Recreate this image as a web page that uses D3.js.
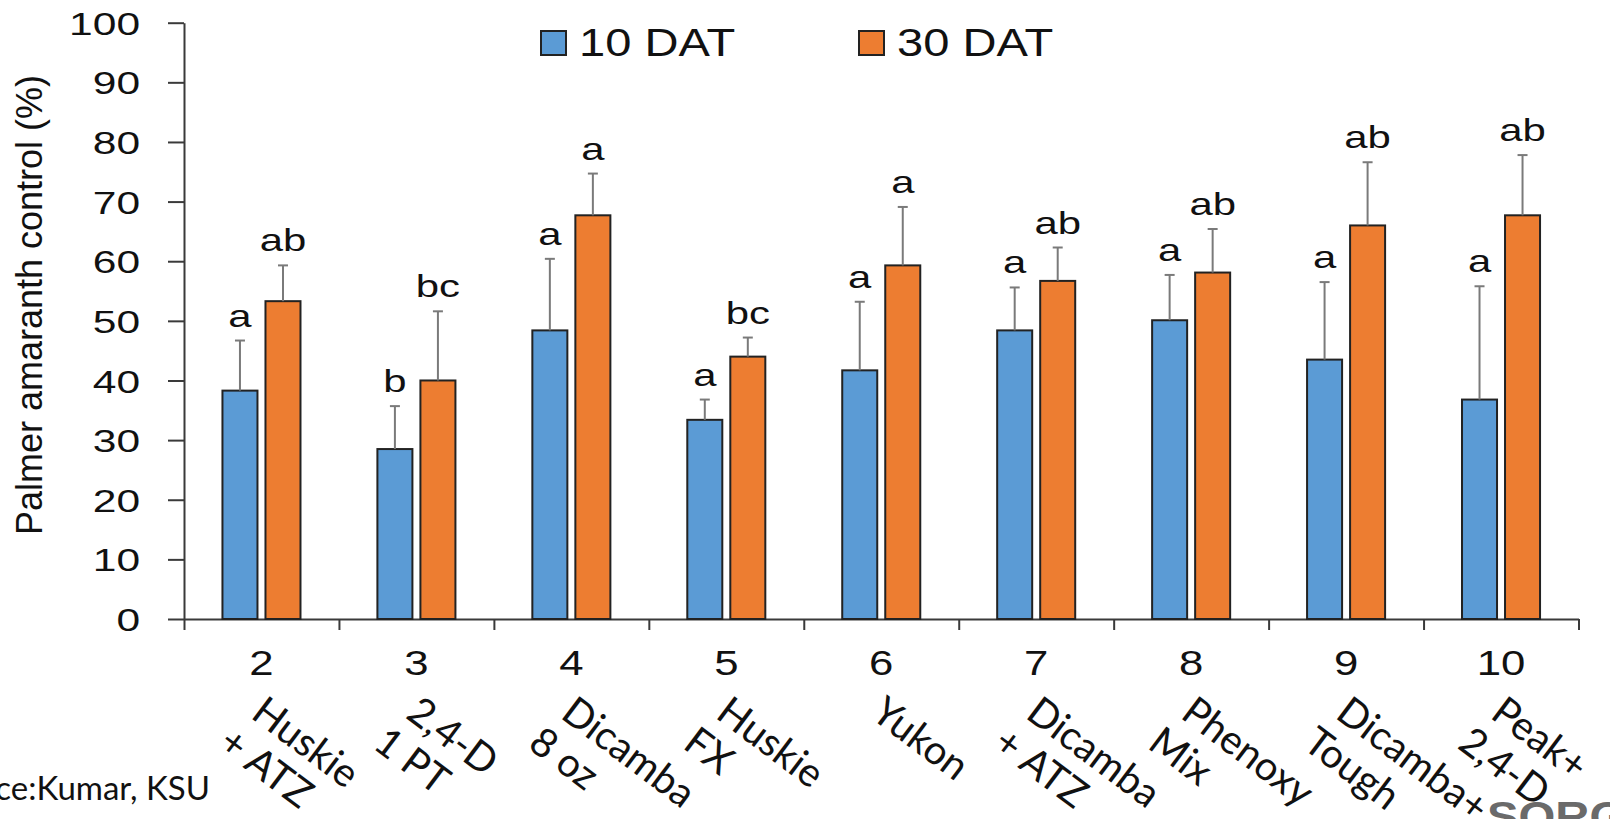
<!DOCTYPE html>
<html>
<head>
<meta charset="utf-8">
<script src="https://cdn.jsdelivr.net/npm/d3@7"></script>
<style>
  body { margin: 0; background: #fff; }
  svg { display: block; }
  text { fill: #111; }
</style>
</head>
<body>
<svg id="chart" width="1610" height="819"></svg>
<script>
// Palmer amaranth control, 10 and 30 days after treatment

var categories = ['2', '3', '4', '5', '6', '7', '8', '9', '10'];
var treatLine1 = ['Huskie', '2,4-D', 'Dicamba', 'Huskie', 'Yukon', 'Dicamba', 'Phenoxy', 'Dicamba+', 'Peak+'];
var treatLine2 = ['+ ATZ', '1 PT', '8 oz', 'FX', '', '+ ATZ', 'Mix', 'Tough', '2,4-D'];
var seriesNames = ['10 DAT', '30 DAT'];
var dat10 = [38.3, 28.5, 48.4, 33.4, 41.7, 48.4, 50.1, 43.5, 36.8];
var dat10Err = [8.4, 7.2, 12.0, 3.4, 11.5, 7.2, 7.6, 13.0, 19.0];
var dat30 = [53.3, 40.0, 67.7, 44.0, 59.3, 56.7, 58.1, 66.0, 67.7];
var dat30Err = [6.0, 11.6, 7.0, 3.2, 9.8, 5.6, 7.3, 10.6, 10.1];
var letters10 = ['a', 'b', 'a', 'a', 'a', 'a', 'a', 'a', 'a'];
var letters30 = ['ab', 'bc', 'a', 'bc', 'a', 'ab', 'ab', 'ab', 'ab'];
var yTicks = [0, 10, 20, 30, 40, 50, 60, 70, 80, 90, 100];

var colors = ['#5b9bd5', '#ed7d31'];
var sansFont = '"Liberation Sans", Arial, sans-serif';
var labelFont = 'Lato, "Open Sans", sans-serif';

var svg = d3.select('#chart');
var plotLeft = 184, plotRight = 1578.5, plotTop = 22.7, plotBottom = 619;

var y = d3.scaleLinear().domain([0, 100]).range([plotBottom, plotTop]);
var x0 = d3.scaleBand().domain(categories).range([plotLeft, plotRight]);
var x1 = d3.scaleBand().domain(seriesNames)
  .range([0, x0.bandwidth()])
  .paddingInner(0.186)
  .paddingOuter(0.894);
var xb = d3.scaleLinear().domain([0, categories.length]).range([plotLeft, plotRight]);

// rows: one per bar
var rows = [];
categories.forEach(function(c, i){
  rows.push({c: c, s: seriesNames[0], v: dat10[i], e: dat10Err[i], l: letters10[i], k: 0});
  rows.push({c: c, s: seriesNames[1], v: dat30[i], e: dat30Err[i], l: letters30[i], k: 1});
});

// y axis
var yAxis = d3.axisLeft(y).tickValues(yTicks).tickSize(16).tickPadding(17).tickSizeOuter(0);
var gy = svg.append('g')
  .attr('transform', 'translate(' + plotLeft + ',0)')
  .call(yAxis);
gy.selectAll('path, line').attr('stroke', '#3a3a3a').attr('stroke-width', 2);
gy.selectAll('text')
  .attr('font-family', sansFont)
  .attr('font-size', 32)
  .attr('fill', '#111')
  .attr('dy', '0.36em')
  .attr('transform', 'scale(1.33,1)');

// x axis (ticks on category boundaries)
var xAxis = d3.axisBottom(xb).ticks(categories.length).tickSize(11).tickSizeOuter(0).tickFormat('');
var gx = svg.append('g')
  .attr('transform', 'translate(0,' + plotBottom + ')')
  .call(xAxis);
gx.selectAll('path, line').attr('stroke', '#3a3a3a').attr('stroke-width', 2);

// bars
svg.append('g').selectAll('rect')
  .data(rows)
  .enter()
  .append('rect')
  .attr('x', function(d){ return x0(d.c) + x1(d.s); })
  .attr('y', function(d){ return y(d.v); })
  .attr('width', x1.bandwidth())
  .attr('height', function(d){ return y(0) - y(d.v); })
  .attr('fill', function(d){ return colors[d.k]; })
  .attr('stroke', '#222')
  .attr('stroke-width', 2);

// upper error bars
var eg = svg.append('g').attr('stroke', '#7a7a7a').attr('stroke-width', 2);
rows.forEach(function(d){
  var cx = x0(d.c) + x1(d.s) + x1.bandwidth() / 2;
  eg.append('line').attr('x1', cx).attr('x2', cx).attr('y1', y(d.v)).attr('y2', y(d.v + d.e));
  eg.append('line').attr('x1', cx - 5).attr('x2', cx + 5).attr('y1', y(d.v + d.e)).attr('y2', y(d.v + d.e));
});

// significance letters
svg.append('g').selectAll('text')
  .data(rows)
  .enter()
  .append('text')
  .attr('transform', function(d){
    var cx = x0(d.c) + x1(d.s) + x1.bandwidth() / 2;
    return 'translate(' + cx + ',' + (y(d.v + d.e) - 14) + ') scale(1.35,1)';
  })
  .attr('text-anchor', 'middle')
  .attr('font-family', sansFont)
  .attr('font-size', 31)
  .text(function(d){ return d.l; });

// treatment numbers
svg.append('g').selectAll('text')
  .data(categories)
  .enter()
  .append('text')
  .attr('transform', function(c){
    return 'translate(' + (x0(c) + x0.bandwidth() / 2) + ',675) scale(1.25,1)';
  })
  .attr('text-anchor', 'middle')
  .attr('font-family', sansFont)
  .attr('font-size', 35)
  .text(function(c){ return c; });

// rotated treatment names
var names = svg.append('g').selectAll('g')
  .data(categories)
  .enter()
  .append('g')
  .attr('transform', function(c){
    return 'translate(' + (x0(c) + x0.bandwidth() / 2 - 12) + ',717) rotate(37)';
  });
names.append('text')
  .attr('font-family', labelFont)
  .attr('font-size', 40)
  .text(function(c, i){ return treatLine1[i]; });
names.append('text')
  .attr('x', -8)
  .attr('y', 44)
  .attr('font-family', labelFont)
  .attr('font-size', 40)
  .text(function(c, i){ return treatLine2[i]; });

// y title
svg.append('text')
  .attr('transform', 'translate(42,' + 305 + ') rotate(-90)')
  .attr('text-anchor', 'middle')
  .attr('font-family', sansFont)
  .attr('font-size', 36)
  .text('Palmer amaranth control (%)');

// legend
var lg = svg.append('g').selectAll('g')
  .data(seriesNames)
  .enter()
  .append('g')
  .attr('transform', function(d, i){ return 'translate(' + (i === 0 ? 541 : 859) + ',31)'; });
lg.append('rect')
  .attr('width', 25).attr('height', 24)
  .attr('fill', function(d, i){ return colors[i]; })
  .attr('stroke', '#222').attr('stroke-width', 2);
lg.append('text')
  .attr('transform', 'translate(38,25) scale(1.24,1)')
  .attr('font-family', sansFont)
  .attr('font-size', 38)
  .text(function(d){ return d; });

// source note and logo fragment
svg.append('text')
  .attr('x', 210).attr('y', 800)
  .attr('text-anchor', 'end')
  .attr('font-family', labelFont)
  .attr('font-size', 33)
  .text('Source:Kumar, KSU');
svg.append('text')
  .attr('transform', 'translate(1487,831) scale(1.1,1)')
  .attr('font-family', sansFont)
  .attr('font-weight', 'bold')
  .attr('font-size', 43)
  .style('fill', '#6a6a6a')
  .text('SORGHUM');
</script>
</body>
</html>
